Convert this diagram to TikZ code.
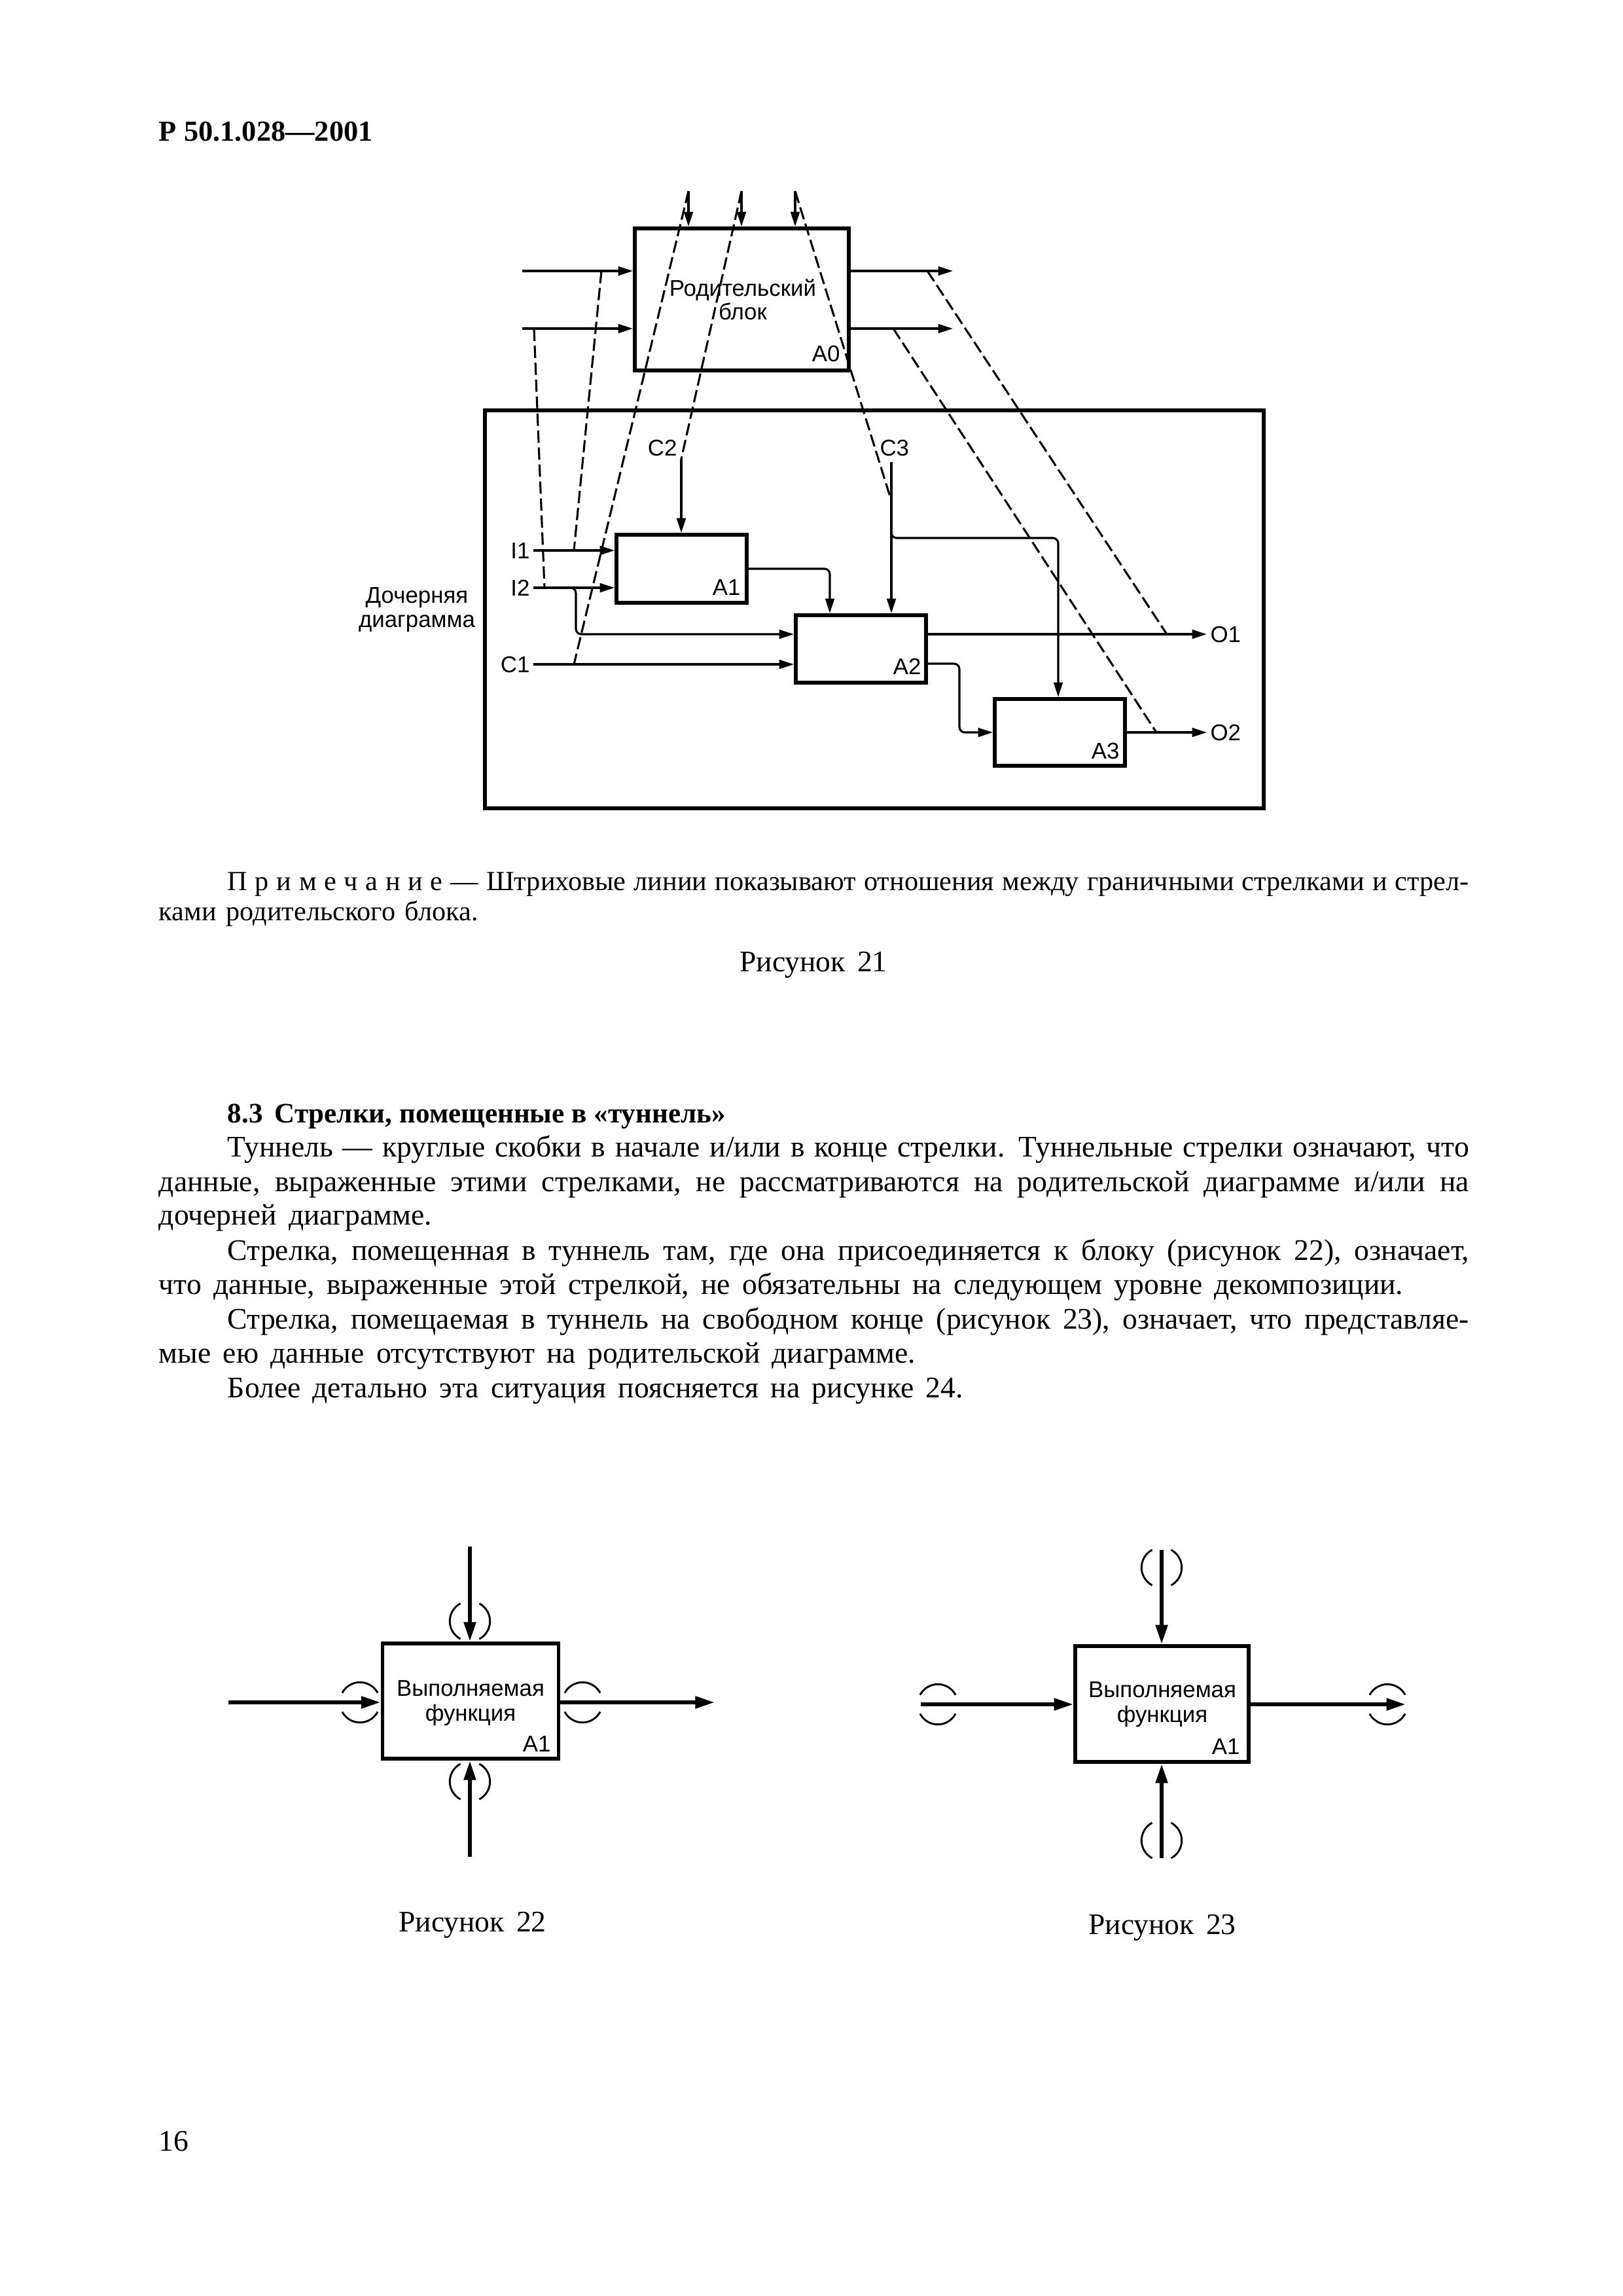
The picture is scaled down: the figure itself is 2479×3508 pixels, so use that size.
\documentclass[tikz,border=0pt]{standalone}
\usepackage{fontspec}
\setmainfont{Liberation Serif}
\setsansfont{Liberation Sans}
\usetikzlibrary{arrows.meta}

\newcommand{\bodyfont}{\fontsize{11}{12.6}\selectfont\spaceskip=4.4pt plus 2pt minus 2.2pt\relax}
\newcommand{\notefont}{\fontsize{10.2}{12}\selectfont\spaceskip=3.5pt plus 2pt minus 1.2pt\relax}
\newcommand{\headfont}{\bfseries\fontsize{10.7}{13}\selectfont}
\newcommand{\secfont}{\bfseries\fontsize{10.4}{12}\selectfont}
\newcommand{\diagfont}{\sffamily\fontsize{8.4}{10}\selectfont}
\newcommand{\fullline}[1]{\makebox[169.6mm][s]{#1}}
\newcommand{\indline}[1]{\makebox[160.7mm][s]{#1}}

\begin{document}
\begin{tikzpicture}[x=0.084712mm, y=-0.084712mm,
  txt/.style={anchor=base west, inner sep=0pt, font=\bodyfont},
  caption/.style={anchor=base, inner sep=0pt, font=\bodyfont},
  lbl/.style={inner sep=0.4mm, font=\diagfont},
  block/.style={draw, line width=1.4pt, inner sep=0pt},
  flow/.style={-{Triangle[length=1.9mm, width=1.15mm]}, line width=0.75pt},
  relation/.style={line width=0.75pt, dash pattern=on 1.6mm off 0.6mm},
  heavy/.style={-{Triangle[length=2.5mm, width=1.5mm]}, line width=1.4pt},
  tunnel/.style={line width=0.7pt}
]
  \path[use as bounding box, fill=white] (0,0) rectangle (2479,3508);

  \node[txt, font=\headfont] (hdr) at (242,215) {Р 50.1.028—2001};

  % parent block
  \node[block, minimum width=27.7mm, minimum height=18.38mm] (a0) at (1133.5,457.5) {};
  \node[lbl, anchor=base] (a0name) at (1135,452) {Родительский};
  \node[lbl, anchor=base] (a0name2) at (1135,488) {блок};
  \node[lbl, anchor=base east] (a0num) at (1289,552) {A0};

  \coordinate (c01) at (1052,292);
  \coordinate (c02) at (1133,292);
  \coordinate (c03) at (1215,292);
  \coordinate (i01) at (798,414);
  \coordinate (i02) at (798,502);
  \coordinate (o01) at (1456,414);
  \coordinate (o02) at (1456,502);

  \draw[flow] (c01) -- (c01 |- a0.north);
  \draw[flow] (c02) -- (c02 |- a0.north);
  \draw[flow] (c03) -- (c03 |- a0.north);
  \draw[flow] (i01) -- (i01 -| a0.west);
  \draw[flow] (i02) -- (i02 -| a0.west);
  \draw[flow] (a0.east |- o01) -- (o01);
  \draw[flow] (a0.east |- o02) -- (o02);

  % child diagram
  \node[block, minimum width=100.8mm, minimum height=51.5mm] (child) at (1336,931) {};
  \node[lbl, anchor=base] (childname) at (637,921) {Дочерняя};
  \node[lbl, anchor=base] (childname2) at (637,958) {диаграмма};

  \node[block, minimum width=16.86mm, minimum height=8.81mm] (a1) at (1041.5,869) {};
  \node[block, minimum width=16.86mm, minimum height=8.73mm] (a2) at (1315.5,991.5) {};
  \node[block, minimum width=16.86mm, minimum height=8.64mm] (a3) at (1619.5,1119) {};
  \node[lbl, anchor=base east] (a1num) at (1137,909) {A1};
  \node[lbl, anchor=base east] (a2num) at (1413,1030) {A2};
  \node[lbl, anchor=base east] (a3num) at (1716,1159) {A3};

  \node[lbl, anchor=east] (li1) at (815,841) {I1};
  \node[lbl, anchor=east] (li2) at (815,898) {I2};
  \node[lbl, anchor=east] (lc1) at (815,1015) {C1};
  \node[lbl, anchor=base east] (lc2) at (1040,696) {C2};
  \node[lbl, anchor=base west] (lc3) at (1339,696) {C3};
  \node[lbl, anchor=west] (lo1) at (1844,969) {O1};
  \node[lbl, anchor=west] (lo2) at (1844,1119) {O2};

  \coordinate (c2) at (1041,701);
  \coordinate (c3) at (1362,706);
  \coordinate (j2) at (880,969);
  \coordinate (k1) at (1268,869);
  \coordinate (k3) at (1362,822);
  \coordinate (k4) at (1617,822);
  \coordinate (k5) at (1466,1014);

  \draw[flow] (li1) -- (li1 -| a1.west);
  \draw[flow] (li2) -- (li2 -| a1.west);
  \draw[flow, rounded corners=0.7mm] (li2) -| (j2) -- (j2 -| a2.west);
  \draw[flow] (lc1) -- (lc1 -| a2.west);
  \draw[flow] (c2) -- (c2 |- a1.north);
  \draw[flow, rounded corners=0.7mm] (a1.east) -- (k1) -- (k1 |- a2.north);
  \draw[flow] (c3) -- (c3 |- a2.north);
  \draw[flow, rounded corners=0.7mm] (c3) -- (k3) -- (k4) -- (k4 |- a3.north);
  \draw[flow] (a2.east |- lo1) -- (lo1);
  \draw[flow, rounded corners=0.7mm] (a2.east |- k5) -- (k5) |- (a3.west);
  \draw[flow] (a3.east) -- (lo2);

  % dashed relations parent -> child
  \coordinate (d1a) at (816,502);
  \coordinate (d1b) at (832,898);
  \coordinate (d2a) at (919,414);
  \coordinate (d2b) at (877,841);
  \coordinate (d3b) at (877,1015);
  \coordinate (d5b) at (1362,765);
  \coordinate (d6a) at (1417,414);
  \coordinate (d6b) at (1783,969);
  \coordinate (d7a) at (1365,502);
  \coordinate (d7b) at (1767,1119);

  \draw[relation] (d1a) -- (d1b);
  \draw[relation] (d2a) -- (d2b);
  \draw[relation] (c01) -- (d3b);
  \draw[relation] (c02) -- (c2);
  \draw[relation] (c03) -- (d5b);
  \draw[relation] (d6a) -- (d6b);
  \draw[relation] (d7a) -- (d7b);

  % text
  \node[txt, font=\notefont] (note1) at (347,1360) {\indline{П\kern2.8pt р\kern2.8pt и\kern2.8pt м\kern2.8pt е\kern2.8pt ч\kern2.8pt а\kern2.8pt н\kern2.8pt и\kern2.8pt е — Штриховые линии показывают отношения между граничными стрелками и стрел-}};
  \node[txt, font=\notefont] (note2) at (242,1406) {ками родительского блока.};
  \node[caption] (cap21) at (1243,1484) {Рисунок 21};

  \node[txt, font=\secfont] (sec) at (347,1715) {8.3\hspace{1.5mm}Стрелки, помещенные в «туннель»};
  \node[txt] (b1) at (347,1767) {\indline{Туннель — круглые скобки в начале и/или в конце стрелки. Туннельные стрелки означают, что}};
  \node[txt] (b2) at (242,1820) {\fullline{данные, выраженные этими стрелками, не рассматриваются на родительской диаграмме и/или на}};
  \node[txt] (b3) at (242,1871) {дочерней диаграмме.};
  \node[txt] (b4) at (347,1925) {\indline{Стрелка, помещенная в туннель там, где она присоединяется к блоку (рисунок 22), означает,}};
  \node[txt] (b5) at (242,1977) {что данные, выраженные этой стрелкой, не обязательны на следующем уровне декомпозиции.};
  \node[txt] (b6) at (347,2030) {\indline{Стрелка, помещаемая в туннель на свободном конце (рисунок 23), означает, что представляе-}};
  \node[txt] (b7) at (242,2082) {мые ею данные отсутствуют на родительской диаграмме.};
  \node[txt] (b8) at (347,2135) {Более детально эта ситуация поясняется на рисунке 24.};

  % figure 22: tunnels at the block
  \node[block, minimum width=22.8mm, minimum height=14.95mm] (f22) at (719,2599) {};
  \node[lbl, anchor=base] (f22name) at (719,2591) {Выполняемая};
  \node[lbl, anchor=base] (f22name2) at (719,2629) {функция};
  \node[lbl, anchor=base east] (f22num) at (847,2676) {A1};

  \coordinate (f22t) at (718,2363);
  \coordinate (f22b) at (718,2837);
  \coordinate (f22l) at (349,2601);
  \coordinate (f22r) at (1092,2601);
  \draw[heavy] (f22t) -- (f22t |- f22.north);
  \draw[heavy] (f22b) -- (f22b |- f22.south);
  \draw[heavy] (f22l) -- (f22l -| f22.west);
  \draw[heavy] (f22.east |- f22r) -- (f22r);

  \draw[tunnel] (718,2477) ++(118:2.6mm) arc[start angle=118, end angle=242, radius=2.6mm]
                (718,2477) ++(-62:2.6mm) arc[start angle=-62, end angle=62, radius=2.6mm];
  \draw[tunnel] (718,2722) ++(118:2.6mm) arc[start angle=118, end angle=242, radius=2.6mm]
                (718,2722) ++(-62:2.6mm) arc[start angle=-62, end angle=62, radius=2.6mm];
  \draw[tunnel] (550,2601) ++(28:2.6mm) arc[start angle=28, end angle=152, radius=2.6mm]
                (550,2601) ++(208:2.6mm) arc[start angle=208, end angle=332, radius=2.6mm];
  \draw[tunnel] (890,2601) ++(28:2.6mm) arc[start angle=28, end angle=152, radius=2.6mm]
                (890,2601) ++(208:2.6mm) arc[start angle=208, end angle=332, radius=2.6mm];

  \node[caption] (cap22) at (722,2951) {Рисунок 22};

  % figure 23: tunnels at the free ends
  \node[block, minimum width=22.45mm, minimum height=14.99mm] (f23) at (1775.5,2603.5) {};
  \node[lbl, anchor=base] (f23name) at (1776,2593) {Выполняемая};
  \node[lbl, anchor=base] (f23name2) at (1776,2631) {функция};
  \node[lbl, anchor=base east] (f23num) at (1900,2680) {A1};

  \coordinate (f23t) at (1775,2368);
  \coordinate (f23b) at (1775,2839);
  \coordinate (f23l) at (1407,2604);
  \coordinate (f23r) at (2148,2604);
  \draw[heavy] (f23t) -- (f23t |- f23.north);
  \draw[heavy] (f23b) -- (f23b |- f23.south);
  \draw[heavy] (f23l) -- (f23l -| f23.west);
  \draw[heavy] (f23.east |- f23r) -- (f23r);

  \draw[tunnel] (1775,2395) ++(118:2.6mm) arc[start angle=118, end angle=242, radius=2.6mm]
                (1775,2395) ++(-62:2.6mm) arc[start angle=-62, end angle=62, radius=2.6mm];
  \draw[tunnel] (1775,2812) ++(118:2.6mm) arc[start angle=118, end angle=242, radius=2.6mm]
                (1775,2812) ++(-62:2.6mm) arc[start angle=-62, end angle=62, radius=2.6mm];
  \draw[tunnel] (1433,2604) ++(28:2.6mm) arc[start angle=28, end angle=152, radius=2.6mm]
                (1433,2604) ++(208:2.6mm) arc[start angle=208, end angle=332, radius=2.6mm];
  \draw[tunnel] (2120,2604) ++(28:2.6mm) arc[start angle=28, end angle=152, radius=2.6mm]
                (2120,2604) ++(208:2.6mm) arc[start angle=208, end angle=332, radius=2.6mm];

  \node[caption] (cap23) at (1776,2955) {Рисунок 23};

  \node[txt] (pg) at (242,3286) {16};
\end{tikzpicture}
\end{document}
